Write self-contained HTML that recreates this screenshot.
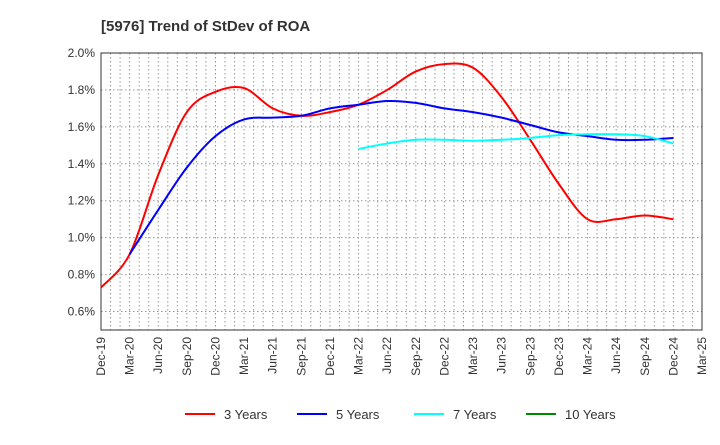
<!DOCTYPE html>
<html><head><meta charset="utf-8"><style>
body{margin:0;background:#fff;font-family:"Liberation Sans",sans-serif}
</style></head><body>
<svg id="c" width="720" height="440" xmlns="http://www.w3.org/2000/svg">
<text x="101" y="31" font-size="15" font-weight="bold" fill="#333">[5976]  Trend of StDev of ROA</text>
<g id="grid"></g><g id="axes"></g><g id="series"></g><g id="legend"></g>
</svg>
<script>
const xLabels=["Dec-19","Mar-20","Jun-20","Sep-20","Dec-20","Mar-21","Jun-21","Sep-21","Dec-21","Mar-22","Jun-22","Sep-22","Dec-22","Mar-23","Jun-23","Sep-23","Dec-23","Mar-24","Jun-24","Sep-24","Dec-24","Mar-25"];
const yTicks=[0.6,0.8,1.0,1.2,1.4,1.6,1.8,2.0];
const s3=[0.73,0.91,1.34,1.68,1.79,1.81,1.70,1.66,1.68,1.72,1.80,1.90,1.94,1.92,1.76,1.53,1.29,1.10,1.10,1.12,1.10];
const s5=[null,0.91,1.15,1.38,1.55,1.64,1.65,1.66,1.70,1.72,1.74,1.73,1.70,1.68,1.65,1.61,1.57,1.55,1.53,1.53,1.54];
const s7=[null,null,null,null,null,null,null,null,null,1.48,1.51,1.53,1.53,1.525,1.53,1.54,1.555,1.56,1.56,1.55,1.51];
const s10=[];
const L=101,R=702,T=53,B=330,ymin=0.5,ymax=2.0;
const xs=i=>L+(R-L)*i/21;
const ys=v=>B-(B-T)*(v-ymin)/(ymax-ymin);
const NS="http://www.w3.org/2000/svg";
function mk(t,a,p){const e=document.createElementNS(NS,t);for(const k in a)e.setAttribute(k,a[k]);p.appendChild(e);return e;}
const grid=document.getElementById('grid'),axes=document.getElementById('axes'),ser=document.getElementById('series'),leg=document.getElementById('legend');
for(let m=1;m<63;m++){const x=L+(R-L)*m/63;const l=mk('line',{x1:x,x2:x,y1:T,y2:B,stroke:'#999','stroke-dasharray':'1.5,2.5'},grid);

}
yTicks.forEach(v=>{const y=ys(v);const l=mk('line',{x1:L,x2:R,y1:y,y2:y,stroke:'#999','stroke-dasharray':'1.5,2.5'},grid);


const t=mk('text',{x:L-6,y:y+4,'text-anchor':'end','font-size':12,fill:'#333'},axes);t.textContent=v.toFixed(1)+'%';

});
const fr=mk('rect',{x:L,y:T,width:R-L,height:B-T,fill:'none',stroke:'#333'},axes);


xLabels.forEach((s,i)=>{const x=xs(i);const t=mk('text',{x:0,y:0,'text-anchor':'end','font-size':12,fill:'#333',transform:`translate(${x+4},${B+7}) rotate(-90)`},axes);t.textContent=s;

});
function path(arr){const p=[];arr.forEach((v,i)=>{if(v!=null)p.push([xs(i),ys(v)]);});if(p.length<2)return '';
let d=`M${p[0][0]},${p[0][1]}`;for(let i=0;i<p.length-1;i++){const p0=p[i-1]||p[i],p1=p[i],p2=p[i+1],p3=p[i+2]||p2;
d+=` C${p1[0]+(p2[0]-p0[0])/6},${p1[1]+(p2[1]-p0[1])/6} ${p2[0]-(p3[0]-p1[0])/6},${p2[1]-(p3[1]-p1[1])/6} ${p2[0]},${p2[1]}`;}return d;}
[[s3,'#f00','series-3-years'],[s5,'#00f','series-5-years'],[s7,'#0ff','series-7-years'],[s10,'#080','series-10-years']].forEach(([a,c,n])=>{const d=path(a);if(!d)return;
const e=mk('path',{d:d,fill:'none',stroke:c,'stroke-width':2},ser);

});
[['3 Years','#f00',185],['5 Years','#00f',297],['7 Years','#0ff',414],['10 Years','#080',526]].forEach(([s,c,x])=>{
const g=mk('g',{},leg);


mk('line',{x1:x,x2:x+30,y1:414,y2:414,stroke:c,'stroke-width':2},g);
const t=mk('text',{x:x+39,y:419,'font-size':13,fill:'#333'},g);t.textContent=s;});
</script>
</body></html>
